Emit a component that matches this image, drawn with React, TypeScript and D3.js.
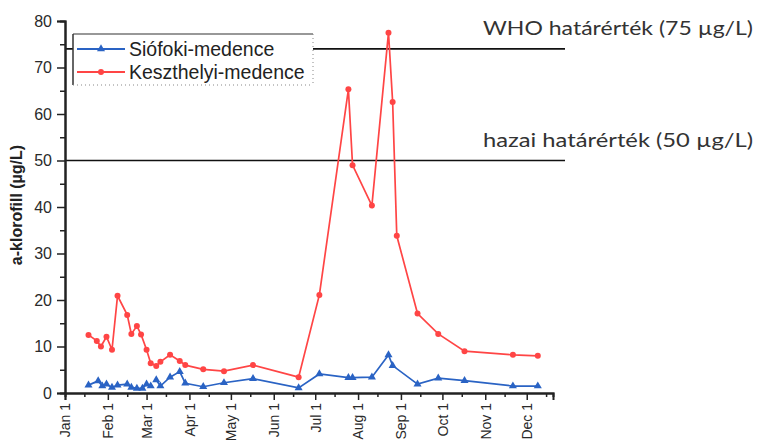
import * as d3 from "d3";
import React, { useEffect, useRef } from "react";

// sampling dates (2019) and chlorophyll-a values
const redDates = [
  "01-18", "01-24", "01-27", "01-31", "02-04", "02-08", "02-15", "02-18", "02-22",
  "02-25", "03-01", "03-04", "03-08", "03-11", "03-18", "03-25", "03-29", "04-11",
  "04-26", "05-17", "06-19", "07-04", "07-25", "07-28", "08-11", "08-23", "08-26",
  "08-29", "09-13", "09-28", "10-17", "11-21", "12-09",
];
const redValues = [
  12.5, 11.2, 10.0, 12.1, 9.3, 20.9, 16.8, 12.7, 14.4,
  12.6, 9.3, 6.4, 5.8, 6.7, 8.2, 6.9, 6.0, 5.1,
  4.7, 6.0, 3.4, 21.1, 65.3, 49.0, 40.3, 77.5, 62.6,
  33.8, 17.1, 12.7, 9.0, 8.2, 8.0,
];

const blueDates = [
  "01-18", "01-25", "01-28", "01-31", "02-04", "02-08", "02-15", "02-18", "02-22",
  "02-26", "03-01", "03-04", "03-06", "03-08", "03-11", "03-18", "03-25", "03-29",
  "04-11", "04-26", "05-17", "06-19", "07-04", "07-25", "07-28", "08-11", "08-23",
  "08-26", "09-13", "09-28", "10-17", "11-21", "12-09",
];
// null = missing sample (line break)
const blueValues: (number | null)[] = [
  1.7, 2.6, 1.5, 1.9, 1.2, 1.7, 1.9, 1.2, 1.0,
  1.0, 1.9, 1.5, null, 2.8, 1.5, 3.4, 4.6, 2.1,
  1.35, 2.2, 3.1, 1.1, 4.1, 3.3, 3.3, 3.4, 8.2,
  5.9, 1.9, 3.2, 2.65, 1.5, 1.5,
];

const seriesNames = ["Siófoki-medence", "Keszthelyi-medence"];
const thresholdValues = [74, 50];
const thresholdLabels = ["WHO határérték (75 µg/L)", "hazai határérték (50 µg/L)"];
const yTicks = [0, 10, 20, 30, 40, 50, 60, 70, 80];

const parse = d3.timeParse("%Y-%m-%d");
const toDate = (s: string) => parse(`2019-${s}`) as Date;

interface Pt {
  date: Date;
  value: number | null;
}

const red: Pt[] = redDates.map((d, i) => ({ date: toDate(d), value: redValues[i] }));
const blue: Pt[] = blueDates.map((d, i) => ({ date: toDate(d), value: blueValues[i] }));

const RED = "#ff4545";
const BLUE = "#2a63c4";

export default function App() {
  const xAxisRef = useRef<SVGGElement>(null);
  const yAxisRef = useRef<SVGGElement>(null);

  const left = 65;
  const right = 553;
  const top = 21;
  const bottom = 393;

  const x = d3
    .scaleTime()
    .domain([toDate("01-01"), toDate("12-20")])
    .range([left, right]);
  const y = d3.scaleLinear().domain([0, 80]).range([bottom, top]);

  const line = d3
    .line<Pt>()
    .defined((d) => d.value !== null)
    .x((d) => x(d.date))
    .y((d) => y(d.value as number));

  const tri = d3.symbol().type(d3.symbolTriangle).size(28)();
  const font = "'Liberation Sans', Arial, sans-serif";

  useEffect(() => {
    if (xAxisRef.current) {
      const g = d3.select(xAxisRef.current);
      g.selectAll("*").remove();
      // minor ticks at mid-month
      const mid = d3.timeDay.range(x.domain()[0], x.domain()[1]).filter((d) => d.getDate() === 15);
      g.append("g").call(d3.axisBottom(x).tickValues(mid).tickSize(4).tickFormat(() => ""));
      const major = g
        .append("g")
        .call(
          d3
            .axisBottom(x)
            .ticks(d3.timeMonth.every(1))
            .tickSize(7)
            .tickFormat(d3.timeFormat("%b %-d") as any)
        );
      g.selectAll("path.domain").attr("stroke", "#222").attr("stroke-width", 2);
      g.selectAll(".tick line").attr("stroke", "#222").attr("stroke-width", 1.5);
      major
        .selectAll(".tick text")
        .attr("transform", "rotate(-90)")
        .attr("x", -10)
        .attr("y", 0)
        .attr("dy", "0.35em")
        .attr("text-anchor", "end")
        .attr("fill", "#2a2a2a")
        .style("font-size", "14px")
        .style("font-family", font);
    }
    if (yAxisRef.current) {
      const g = d3.select(yAxisRef.current);
      g.selectAll("*").remove();
      g.append("g").call(
        d3.axisLeft(y).tickValues(d3.range(5, 80, 10)).tickSize(5).tickFormat(() => "")
      );
      g.append("g").call(d3.axisLeft(y).tickValues(yTicks).tickSize(8).tickPadding(5));
      g.selectAll("path.domain").attr("stroke", "#222").attr("stroke-width", 2);
      g.selectAll(".tick line").attr("stroke", "#222").attr("stroke-width", 1.5);
      g.selectAll(".tick text")
        .attr("fill", "#2a2a2a")
        .style("font-size", "16px")
        .style("font-family", font);
    }
  }, []);

  return (
    <svg
      width={757}
      height={441}
      style={{ position: "absolute", left: 0, top: 0, background: "#fff" }}
    >
      {/* threshold lines */}
      {thresholdValues.map((v, i) => (
        <g key={`thr-${i}`}>
          <line x1={left} x2={565} y1={y(v)} y2={y(v)} stroke="#111" strokeWidth={1.6} />
          <text
            x={483}
            y={y(v) - 14}
            fontFamily="Lato, 'Open Sans', sans-serif"
            fontSize={18.5}
            fill="#333"
            textLength={270}
            lengthAdjust="spacingAndGlyphs"
          >
            {thresholdLabels[i]}
          </text>
        </g>
      ))}

      <g ref={xAxisRef} transform={`translate(0, ${bottom})`} />
      <g ref={yAxisRef} transform={`translate(${left}, 0)`} />

      {/* series */}
      <path d={line(blue) || ""} fill="none" stroke={BLUE} strokeWidth={1.7} />
      {blue
        .filter((d) => d.value !== null)
        .map((d, i) => (
          <path
            key={`b-${i}`}
            d={tri || ""}
            transform={`translate(${x(d.date)}, ${y(d.value as number)})`}
            fill={BLUE}
          />
        ))}
      <path d={line(red) || ""} fill="none" stroke={RED} strokeWidth={1.7} />
      {red.map((d, i) => (
        <circle key={`r-${i}`} cx={x(d.date)} cy={y(d.value as number)} r={3} fill={RED} />
      ))}

      {/* legend */}
      <g>
        <rect x={73} y={34} width={240} height={51} fill="#fff" />
        <line x1={73} x2={313} y1={34} y2={34} stroke="#333" strokeWidth={1.2} />
        <line x1={73} x2={73} y1={34} y2={85} stroke="#333" strokeWidth={1.5} />
        <line x1={313} x2={313} y1={34} y2={85} stroke="#888" strokeWidth={1} strokeDasharray="1,3" />
        <line x1={73} x2={313} y1={85} y2={85} stroke="#888" strokeWidth={1} strokeDasharray="1,3" />
        {seriesNames.map((name, i) => {
          const ly = 49 + i * 23;
          const color = i === 0 ? BLUE : RED;
          return (
            <g key={`leg-${i}`}>
              <line x1={77} x2={125} y1={ly} y2={ly} stroke={color} strokeWidth={1.8} />
              {i === 0 ? (
                <path d={tri || ""} transform={`translate(101, ${ly})`} fill={color} />
              ) : (
                <circle cx={101} cy={ly} r={3} fill={color} />
              )}
              <text x={129} y={ly + 7} fontFamily={font} fontSize={19.5} fill="#222">
                {name}
              </text>
            </g>
          );
        })}
      </g>

      {/* y label */}
      <text
        transform={`translate(22, ${205}) rotate(-90)`}
        textAnchor="middle"
        fontFamily={font}
        fontWeight="bold"
        fontSize={16}
        fill="#222"
      >
        a-klorofill (µg/L)
      </text>
    </svg>
  );
}
